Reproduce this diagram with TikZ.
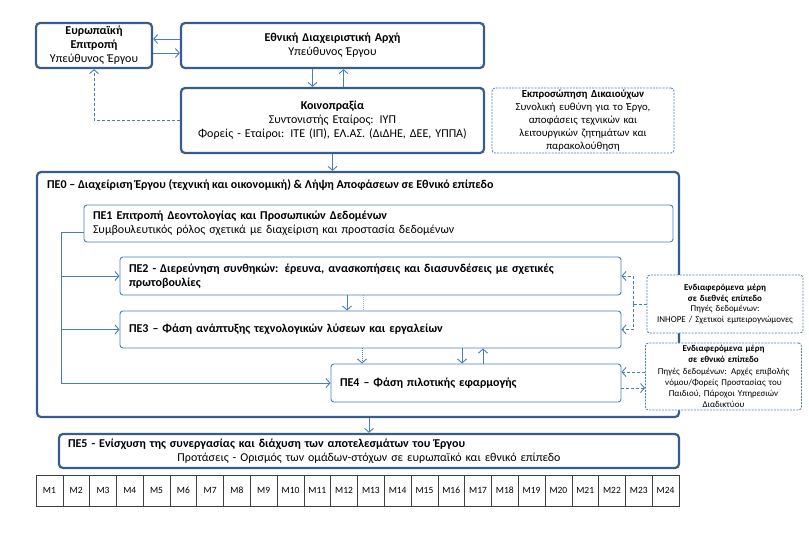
\documentclass[tikz,border=0pt]{standalone}
\usepackage{fontspec}
\setmainfont{Carlito}
\usetikzlibrary{arrows.meta}
\definecolor{bxDark}{HTML}{385D8A}
\definecolor{lnBlue}{HTML}{4A7EBB}
\newcommand{\peblk}[7]{%
  \pgfmathsetmacro{\pecx}{(#2+#4)/2}%
  \pgfmathsetmacro{\pecy}{(#3+#5)/2}%
  \pgfmathsetmacro{\pew}{#4-#2}%
  \pgfmathsetmacro{\peh}{#5-#3}%
  \pgfmathsetmacro{\petw}{#4-#2-18}%
  \node[minimum width=\pew pt, minimum height=\peh pt, text width=\petw pt, #6] (#1) at (\pecx,\pecy) {#7};}

\begin{document}
\begin{tikzpicture}[x=1pt, y=-1pt,
  mainbx/.style={draw=bxDark, line width=2.2pt, rounded corners=4pt, fill=white, align=center,
                 inner xsep=9pt, inner ysep=1pt, font=\fontsize{12}{14}\selectfont},
  wpbx/.style={draw=lnBlue, line width=0.9pt, rounded corners=3pt, fill=white, align=left,
               inner xsep=9pt, inner ysep=1pt, font=\bfseries\fontsize{12}{14}\selectfont},
  notebx/.style={draw=lnBlue, line width=0.8pt, dash pattern=on 2pt off 1.2pt, rounded corners=3pt,
                 fill=white, align=center, inner xsep=2pt, inner ysep=0pt},
  arr/.style={draw=lnBlue, line width=0.9pt, -{Straight Barb[length=4pt,width=9pt]}},
  darr/.style={arr, dash pattern=on 3pt off 2pt},
  dashln/.style={draw=lnBlue, line width=0.9pt, dash pattern=on 3pt off 2pt},
  mcell/.style={draw=black!75, line width=0.5pt, minimum width=26.8pt, minimum height=31pt,
                inner sep=0pt, font=\fontsize{9.5}{11}\selectfont}]
\useasboundingbox (0,0) rectangle (809,542);
% management
\peblk{eu}{36}{23}{152}{68}{mainbx}{\textbf{Ευρωπαϊκή}\\\textbf{Επιτροπή}\\Υπεύθυνος Έργου}
\peblk{eda}{181}{23}{484}{68}{mainbx}{\textbf{Εθνική Διαχειριστική  Αρχή}\\Υπεύθυνος Έργου}
\peblk{koin}{181}{88}{484}{153}{mainbx}{\textbf{Κοινοπραξία}\\Συντονιστής Εταίρος: ΙΥΠ\\Φορείς - Εταίροι: ΙΤΕ (ΙΠ), ΕΛ.ΑΣ. (ΔιΔΗΕ, ΔΕΕ, ΥΠΠΑ)}
\peblk{rep}{492}{88}{674}{153}{notebx, text width=176pt, font=\fontsize{10.8}{12.9}\selectfont}{\textbf{Εκπροσώπηση Δικαιούχων}\\Συνολική ευθύνη για το Έργο,\\αποφάσεις τεχνικών και\\λειτουργικών ζητημάτων και\\παρακολούθηση}
\draw[arr] ([yshift=6.5pt]eda.west) -- ([yshift=6.5pt]eu.east);
\draw[arr] ([yshift=-7.5pt]eu.east) -- ([yshift=-7.5pt]eda.west);
\draw[arr] ([xshift=-20pt]eda.south) -- ([xshift=-20pt]koin.north);
\draw[arr] ([xshift=11pt]koin.north) -- ([xshift=11pt]eda.south);
\draw[darr] (koin.west) -| (eu.south);
% work packages
\peblk{pe0}{37}{172}{679}{417}{mainbx}{}
\node[anchor=north west, inner sep=0pt, font=\bfseries\fontsize{12}{14}\selectfont] (pe0t)
  at ([xshift=11pt,yshift=-8pt]pe0.north west) {ΠΕ0 – Διαχείριση Έργου (τεχνική και οικονομική) \& Λήψη Αποφάσεων σε Εθνικό επίπεδο};
\draw[arr] (koin.south) -- (koin.south |- pe0.north);
\peblk{pe1}{84}{205}{673}{242}{wpbx}{ΠΕ1 Επιτροπή Δεοντολογίας και Προσωπικών Δεδομένων\\\mdseries Συμβουλευτικός ρόλος σχετικά με διαχείριση  και προστασία δεδομένων}
\peblk{pe2}{120}{257}{621}{295}{wpbx}{ΠΕ2 - Διερεύνηση συνθηκών: έρευνα, ανασκοπήσεις και διασυνδέσεις με σχετικές\\πρωτοβουλίες}
\peblk{pe3}{120}{311}{621}{348}{wpbx}{ΠΕ3 – Φάση ανάπτυξης τεχνολογικών λύσεων και εργαλείων}
\peblk{pe4}{331}{364}{621}{402}{wpbx}{ΠΕ4 – Φάση πιλοτικής εφαρμογής}
\coordinate (bus) at (61,0);
\draw[lnBlue, line width=0.9pt] ([yshift=-8.5pt]pe1.west) -| (bus |- pe4.west);
\foreach \n in {pe2,pe3,pe4}
  {\draw[arr] (bus |- \n.west) -- (\n.west);}
\draw[arr] ([xshift=-23.5pt]pe2.south) -- ([xshift=-23.5pt]pe3.north);
\draw[lnBlue!70, line width=0.6pt, dash pattern=on 1pt off 1pt] ([xshift=-7.5pt]pe2.south) -- ([xshift=-7.5pt]pe3.north);
\coordinate (p34a) at ([xshift=-8.5pt]pe3.south);
\coordinate (p34b) at ([xshift=-14pt]pe4.north);
\coordinate (p43) at ([xshift=7pt]pe4.north);
\draw[arr, dash pattern=on 1pt off 1pt] (p34a) -- (p34a |- pe4.north);
\draw[arr] (p34b |- pe3.south) -- (p34b);
\draw[arr] (p43) -- (p43 |- pe3.south);
% stakeholders
\peblk{ska}{648}{275}{802}{333}{notebx, text width=152pt, font=\fontsize{9}{10.6}\selectfont}{\textbf{Ενδιαφερόμενα  μέρη}\\\textbf{σε διεθνές επίπεδο}\\Πηγές δεδομένων:\\INHOPE / Σχετικοί εμπειρογνώμονες}
\peblk{skb}{646}{343}{801}{410}{notebx, text width=152pt, font=\fontsize{9}{11.2}\selectfont}{\textbf{Ενδιαφερόμενα  μέρη}\\\textbf{σε εθνικό  επίπεδο}\\Πηγές δεδομένων: Αρχές επιβολής\\νόμου/Φορείς  Προστασίας του\\Παιδιού, Πάροχοι Υπηρεσιών\\Διαδικτύου}
\coordinate (skj) at (633,0);
\draw[dashln] (ska.west) -- (skj |- ska.west);
\draw[darr] (skj |- ska.west) |- (pe2.east);
\draw[darr] (skj |- ska.west) |- (pe3.east);
\coordinate (p4in) at ([yshift=11pt]pe4.east);
\coordinate (p4out) at ([yshift=-5pt]pe4.east);
\draw[darr] (p4in -| skb.west) -- (p4in);
\draw[darr] (p4out) -- (p4out -| skb.west);
% dissemination
\peblk{pe5}{59}{434}{679}{468}{mainbx}{\makebox[\linewidth][l]{\bfseries ΠΕ5 - Ενίσχυση της συνεργασίας και διάχυση των αποτελεσμάτων του Έργου}\\Προτάσεις - Ορισμός των ομάδων-στόχων σε ευρωπαϊκό και εθνικό  επίπεδο}
\draw[arr] (pe5.north |- pe0.south) -- (pe5.north);
% months
\foreach \i in {1,...,24}
  {\pgfmathsetmacro{\pemx}{36+(\i-0.5)*26.79}
   \node[mcell] (m\i) at (\pemx,490.5) {M\i};}
\end{tikzpicture}
\end{document}
